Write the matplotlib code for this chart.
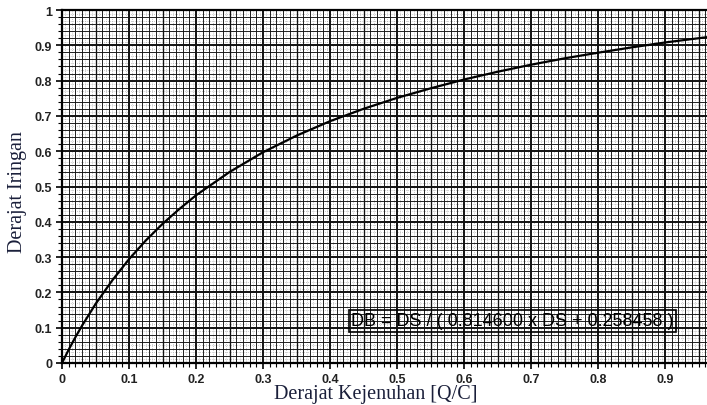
import matplotlib
matplotlib.use("Agg")
import matplotlib.pyplot as plt
import numpy as np

# Data
ds = [0, 0.01, 0.02, 0.03, 0.05, 0.075, 0.1, 0.125, 0.15, 0.175, 0.2, 0.25, 0.3,
      0.35, 0.4, 0.45, 0.5, 0.55, 0.6, 0.65, 0.7, 0.75, 0.8, 0.85, 0.9, 0.95, 1.0]
db = [0, 0.038, 0.073, 0.106, 0.167, 0.234, 0.294, 0.347, 0.394, 0.436, 0.475, 0.541, 0.597,
      0.644, 0.685, 0.720, 0.751, 0.778, 0.803, 0.825, 0.845, 0.863, 0.879, 0.894, 0.908, 0.920, 0.932]
xticks = [0, 0.1, 0.2, 0.3, 0.4, 0.5, 0.6, 0.7, 0.8, 0.9]
xticklabels = ["0", "0.1", "0.2", "0.3", "0.4", "0.5", "0.6", "0.7", "0.8", "0.9"]
yticks = [0, 0.1, 0.2, 0.3, 0.4, 0.5, 0.6, 0.7, 0.8, 0.9, 1.0]
yticklabels = ["0", "0.1", "0.2", "0.3", "0.4", "0.5", "0.6", "0.7", "0.8", "0.9", "1"]
formula = "DB = DS / ( 0.814600 x DS + 0.258458 )"
xlabel = "Derajat Kejenuhan [Q/C]"
ylabel = "Derajat Iringan"

W, H = 707, 406
fig = plt.figure(figsize=(W / 100, H / 100), dpi=100)
fig.patch.set_facecolor("white")
ax = fig.add_axes([62 / W, (H - 364) / H, 670 / W, 353 / H])
ax.set_xlim(0, 1)
ax.set_ylim(0, 1)

# graph-paper grid
for v in np.arange(0.005, 1.0, 0.01):
    ax.axvline(v, color="#999999", lw=0.5, ls=(0, (1, 2)), zorder=1)
for v in np.arange(0.01, 1.0, 0.02):
    ax.axhline(v, color="#999999", lw=0.5, ls=(0, (1, 2)), zorder=1)
for i in range(1, 100):
    v = i / 100
    lw = 1.4 if i % 10 == 0 else (0.95 if i % 5 == 0 else 0.65)
    ax.axvline(v, color="#111111", lw=lw, zorder=2)
for i in range(1, 50):
    v = i / 50
    lw = 1.4 if i % 5 == 0 else 0.65
    ax.axhline(v, color="#111111", lw=lw, zorder=2)

ax.plot(ds, db, color="black", lw=1.6, zorder=4)

for s in ax.spines.values():
    s.set_linewidth(1.6)

ax.set_xticks(xticks)
ax.set_xticklabels(xticklabels)
ax.set_yticks(yticks)
ax.set_yticklabels(yticklabels)
ax.set_xticks(np.arange(0, 1.001, 0.01), minor=True)
ax.set_yticks(np.arange(0, 1.001, 0.02), minor=True)
ax.tick_params(axis="both", which="major", direction="out", length=4, width=1.2,
               labelsize=9, pad=3)
ax.tick_params(axis="both", which="minor", direction="out", length=3, width=0.8)
for lab in ax.get_xticklabels() + ax.get_yticklabels():
    lab.set_fontfamily("Liberation Sans")
    lab.set_fontweight("bold")
    lab.set_color("#222222")

ax.text(0.432, 0.119, formula, transform=ax.transData, fontsize=13,
        family="Liberation Sans", va="center", ha="left", zorder=5,
        bbox=dict(boxstyle="square,pad=0.12", fc="none", ec="black", lw=1.2))

fig.text(376 / W, (H - 395) / H, xlabel, family="Liberation Serif", fontsize=14.5,
         ha="center", va="center", color="#1a1f3a")
fig.text(18 / W, (H - 192) / H, ylabel, family="Liberation Serif", fontsize=14.5,
         ha="center", va="center", rotation=90, color="#1a1f3a")

fig.savefig("out.png", dpi=100)
